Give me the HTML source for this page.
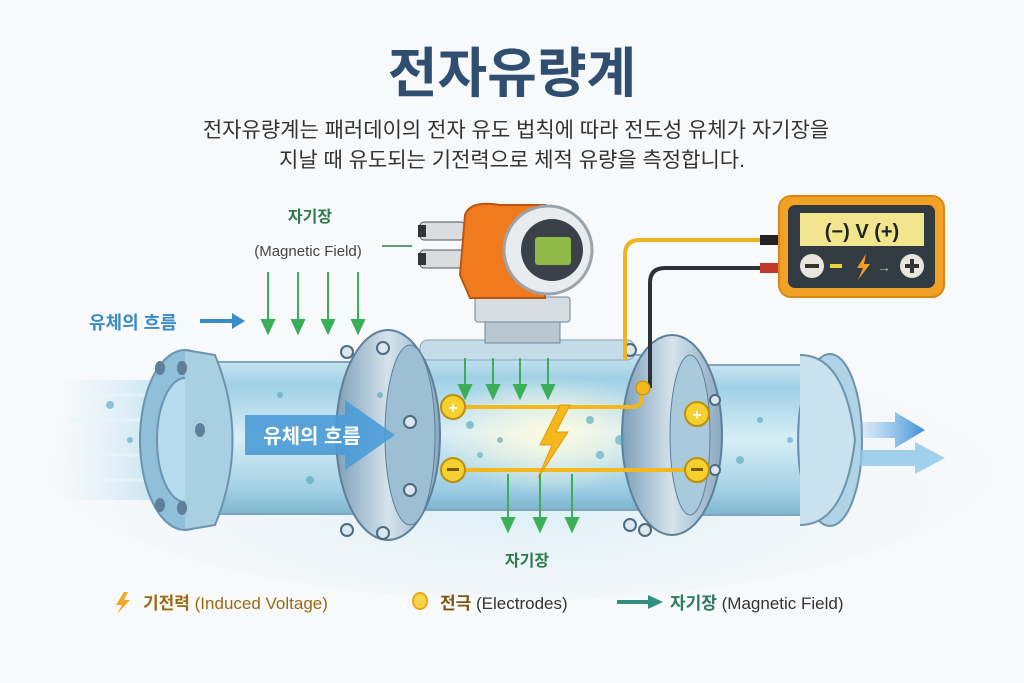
<!DOCTYPE html>
<html><head><meta charset="utf-8"><style>
html,body{margin:0;padding:0;background:#f8f9fa;}
svg{display:block;font-family:"Liberation Sans","Noto Sans CJK KR",sans-serif;}
</style></head><body>
<svg width="1024" height="683" viewBox="0 0 1024 683" xmlns="http://www.w3.org/2000/svg">
<defs>
<linearGradient id="glass" x1="0" y1="0" x2="0" y2="1">
<stop offset="0" stop-color="#c9e4f0"/><stop offset="0.15" stop-color="#9fd0e6"/><stop offset="0.5" stop-color="#d8eef6"/><stop offset="0.85" stop-color="#9fcfe4"/><stop offset="1" stop-color="#7fb5cf"/></linearGradient>
<linearGradient id="steel" x1="0" y1="0" x2="1" y2="0">
<stop offset="0" stop-color="#7d9fb8"/><stop offset="0.5" stop-color="#d5e3ec"/><stop offset="1" stop-color="#8aa9c0"/></linearGradient>
<linearGradient id="flow" x1="0" y1="0" x2="1" y2="0">
<stop offset="0" stop-color="#bfe3f3" stop-opacity="0"/><stop offset="1" stop-color="#5fb5dc"/></linearGradient>
<linearGradient id="rflow" x1="0" y1="0" x2="1" y2="0">
<stop offset="0" stop-color="#7ab8e6" stop-opacity="0.2"/><stop offset="1" stop-color="#3d8fd6"/></linearGradient>
<radialGradient id="glow" cx="0.5" cy="0.5" r="0.5"><stop offset="0" stop-color="#fffbe0"/><stop offset="1" stop-color="#fffbe0" stop-opacity="0"/></radialGradient>
<radialGradient id="bg" cx="0.5" cy="0.65" r="0.6"><stop offset="0" stop-color="#d9eef7"/><stop offset="1" stop-color="#f8f9fa" stop-opacity="0"/></radialGradient>
</defs>
<rect width="1024" height="683" fill="#f8f9fa"/>
<ellipse cx="520" cy="450" rx="480" ry="150" fill="url(#bg)"/>
<text x="512" y="92" text-anchor="middle" font-size="54" font-weight="bold" fill="#2f4e70">전자유량계</text>
<text x="516" y="137" text-anchor="middle" font-size="21" fill="#333">전자유량계는 패러데이의 전자 유도 법칙에 따라 전도성 유체가 자기장을</text>
<text x="512" y="167" text-anchor="middle" font-size="21" fill="#333">지날 때 유도되는 기전력으로 체적 유량을 측정합니다.</text>

<rect x="60" y="380" width="180" height="120" fill="url(#flow)" opacity="0.8"/>
<g stroke="#e8f6fc" stroke-width="3" opacity="0.8"><line x1="80" y1="395" x2="200" y2="395"/><line x1="70" y1="420" x2="200" y2="420"/><line x1="90" y1="455" x2="200" y2="455"/><line x1="75" y1="480" x2="200" y2="480"/></g>

<rect x="190" y="362" width="215" height="152" fill="url(#glass)" stroke="#7fa6bf" stroke-width="2"/>
<ellipse cx="185" cy="440" rx="45" ry="90" fill="#8fbfd9" stroke="#6c93ae" stroke-width="2"/>
<ellipse cx="185" cy="440" rx="28" ry="62" fill="#b7dced" stroke="#6c93ae" stroke-width="2"/>
<path d="M185 350 L215 355 Q250 440 215 525 L185 530" fill="#a9cfe2" stroke="#6c93ae" stroke-width="2"/>
<g fill="#5d7f99"><ellipse cx="160" cy="368" rx="5" ry="7"/><ellipse cx="182" cy="368" rx="5" ry="7"/><ellipse cx="200" cy="430" rx="5" ry="7"/><ellipse cx="160" cy="505" rx="5" ry="7"/><ellipse cx="182" cy="508" rx="5" ry="7"/></g>

<rect x="420" y="355" width="275" height="155" fill="url(#glass)" stroke="#7fa6bf" stroke-width="2"/>
<rect x="420" y="340" width="215" height="20" rx="8" fill="#c4dde9" stroke="#7fa6bf"/>
<ellipse cx="550" cy="435" rx="110" ry="60" fill="url(#glow)"/>
<ellipse cx="388" cy="435" rx="52" ry="105" fill="url(#steel)" stroke="#5d7f99" stroke-width="2"/>
<ellipse cx="410" cy="435" rx="25" ry="90" fill="#9cbfd3" stroke="#5d7f99"/>
<g fill="#dbe6ee" stroke="#4c6a82" stroke-width="2"><circle cx="347" cy="352" r="6"/><circle cx="383" cy="348" r="6"/><circle cx="410" cy="422" r="6"/><circle cx="410" cy="490" r="6"/><circle cx="347" cy="530" r="6"/><circle cx="383" cy="533" r="6"/></g>
<!-- big flow arrow (on top of flange) -->
<path d="M245 415 L345 415 L345 400 L395 435 L345 470 L345 455 L245 455 Z" fill="#4a9bd6" opacity="0.9"/>
<text x="312" y="443" text-anchor="middle" font-size="20" font-weight="bold" fill="#fff">유체의 흐름</text>

<rect x="700" y="365" width="130" height="150" fill="url(#glass)" stroke="#7fa6bf" stroke-width="2"/>
<ellipse cx="672" cy="435" rx="50" ry="100" fill="url(#steel)" stroke="#5d7f99" stroke-width="2"/>
<ellipse cx="690" cy="435" rx="20" ry="80" fill="#a9cadb" stroke="#5d7f99"/>
<g fill="#dbe6ee" stroke="#4c6a82" stroke-width="2"><circle cx="630" cy="350" r="6"/><circle cx="715" cy="400" r="5"/><circle cx="715" cy="470" r="5"/><circle cx="630" cy="525" r="6"/><circle cx="645" cy="530" r="6"/></g>
<ellipse cx="830" cy="440" rx="32" ry="86" fill="#b0d4e6" stroke="#6c93ae" stroke-width="2"/>
<path d="M800 355 Q845 355 855 440 Q845 525 800 525" fill="#c9e2ee" stroke="#6c93ae" stroke-width="2"/>
<g fill="#4ea4b8" opacity="0.6"><circle cx="470" cy="425" r="4"/><circle cx="500" cy="440" r="3"/><circle cx="590" cy="420" r="4"/><circle cx="620" cy="440" r="5"/><circle cx="480" cy="455" r="3"/><circle cx="600" cy="455" r="4"/><circle cx="280" cy="395" r="3"/><circle cx="310" cy="480" r="4"/><circle cx="380" cy="395" r="3"/><circle cx="760" cy="420" r="3"/><circle cx="740" cy="460" r="4"/><circle cx="790" cy="440" r="3"/><circle cx="110" cy="405" r="4"/><circle cx="130" cy="440" r="3"/></g>
<path d="M860 422 L895 422 L895 412 L925 430 L895 448 L895 438 L860 438 Z" fill="url(#rflow)"/>
<path d="M860 450 L915 450 L915 442 L945 458 L915 474 L915 466 L860 466 Z" fill="#8cc6e8" opacity="0.8"/>

<rect x="485" y="315" width="75" height="28" fill="#b8c7d2" stroke="#6f8596"/>
<rect x="475" y="297" width="95" height="25" rx="3" fill="#d5dde3" stroke="#6f8596"/>
<rect x="420" y="222" width="45" height="18" rx="4" fill="#d9dde0" stroke="#555"/>
<rect x="420" y="250" width="45" height="18" rx="4" fill="#d9dde0" stroke="#555"/>
<rect x="418" y="225" width="8" height="12" fill="#333"/><rect x="418" y="253" width="8" height="12" fill="#333"/>
<path d="M465 215 Q470 200 500 205 L545 205 L545 298 L470 298 L460 275 Z" fill="#f07b1f" stroke="#b85510" stroke-width="2"/>
<circle cx="548" cy="250" r="44" fill="#e9ecee" stroke="#9aa3aa" stroke-width="3"/>
<circle cx="552" cy="250" r="31" fill="#3a4148"/>
<rect x="535" y="237" width="36" height="28" rx="3" fill="#8fba4a"/>

<path d="M765 240 L640 240 Q625 240 625 255 L625 360" fill="none" stroke="#f2b21c" stroke-width="4"/>
<path d="M765 268 L665 268 Q650 268 650 283 L650 388" fill="none" stroke="#2c3238" stroke-width="4"/>
<rect x="760" y="235" width="20" height="10" fill="#222"/><rect x="760" y="263" width="20" height="10" fill="#c0392b"/>

<rect x="779" y="196" width="165" height="101" rx="12" fill="#f2a126" stroke="#d88812" stroke-width="2"/>
<rect x="788" y="205" width="147" height="83" rx="7" fill="#323a42"/>
<rect x="800" y="213" width="124" height="33" fill="#f1e58e"/>
<text x="862" y="238" text-anchor="middle" font-size="20" font-weight="bold" fill="#222">(−) V (+)</text>
<circle cx="812" cy="266" r="12" fill="#e9e6df"/><rect x="805" y="264" width="14" height="4" fill="#333"/>
<rect x="830" y="264" width="12" height="4" fill="#f1d23c"/>
<path d="M866 254 L857 268 L863 268 L858 280 L870 264 L864 264 Z" fill="#f2a126"/>
<text x="884" y="272" text-anchor="middle" font-size="14" fill="#bbb">→</text>
<circle cx="912" cy="266" r="12" fill="#e9e6df"/><rect x="905" y="264" width="14" height="4" fill="#333"/><rect x="910" y="259" width="4" height="14" fill="#333"/>

<path d="M455 407 L632 407 Q642 407 642 397 L642 390" fill="none" stroke="#f5b81c" stroke-width="4"/>
<line x1="455" y1="470" x2="697" y2="470" stroke="#f5b81c" stroke-width="4"/>
<circle cx="643" cy="388" r="7" fill="#f5b81c" stroke="#c98a0c"/>
<path d="M560 405 L540 445 L552 445 L538 478 L568 432 L556 432 L570 405 Z" fill="#f5b81c" stroke="#e09a10"/>
<g font-size="16" font-weight="bold" text-anchor="middle" fill="#fff">
<circle cx="453" cy="407" r="12" fill="#f6d02e" stroke="#b8900e" stroke-width="2"/><text x="453" y="413">+</text>
<circle cx="453" cy="470" r="12" fill="#f6d02e" stroke="#b8900e" stroke-width="2"/><rect x="447" y="468" width="12" height="3" fill="#7a5a00"/>
<circle cx="697" cy="414" r="12" fill="#f6d02e" stroke="#b8900e" stroke-width="2"/><text x="697" y="420">+</text>
<circle cx="697" cy="470" r="12" fill="#f6d02e" stroke="#b8900e" stroke-width="2"/><rect x="691" y="468" width="12" height="3" fill="#7a5a00"/>
</g>

<g stroke="#3bae5a" stroke-width="2" fill="#3bae5a">
<line x1="268" y1="272" x2="268" y2="325"/><path d="M262 320 L274 320 L268 333Z"/>
<line x1="298" y1="272" x2="298" y2="325"/><path d="M292 320 L304 320 L298 333Z"/>
<line x1="328" y1="272" x2="328" y2="325"/><path d="M322 320 L334 320 L328 333Z"/>
<line x1="358" y1="272" x2="358" y2="325"/><path d="M352 320 L364 320 L358 333Z"/>
<line x1="465" y1="358" x2="465" y2="390"/><path d="M459 385 L471 385 L465 398Z"/>
<line x1="493" y1="358" x2="493" y2="390"/><path d="M487 385 L499 385 L493 398Z"/>
<line x1="520" y1="358" x2="520" y2="390"/><path d="M514 385 L526 385 L520 398Z"/>
<line x1="548" y1="358" x2="548" y2="390"/><path d="M542 385 L554 385 L548 398Z"/>
<line x1="508" y1="474" x2="508" y2="523"/><path d="M502 518 L514 518 L508 531Z"/>
<line x1="540" y1="474" x2="540" y2="523"/><path d="M534 518 L546 518 L540 531Z"/>
<line x1="572" y1="474" x2="572" y2="523"/><path d="M566 518 L578 518 L572 531Z"/>
</g>
<text x="310" y="222" text-anchor="middle" font-size="16" font-weight="bold" fill="#2e7a4c">자기장</text>
<text x="308" y="256" text-anchor="middle" font-size="15" fill="#444">(Magnetic Field)</text>
<line x1="382" y1="246" x2="412" y2="246" stroke="#2e7a4c" stroke-width="1.5"/>
<text x="527" y="566" text-anchor="middle" font-size="16" font-weight="bold" fill="#2e7a4c">자기장</text>
<text x="89" y="329" font-size="18" font-weight="bold" fill="#3a8cc8">유체의 흐름</text>
<path d="M200 319 L232 319 L232 313 L245 321 L232 329 L232 323 L200 323Z" fill="#3a8cc8"/>

<path d="M124 592 L116 605 L122 605 L117 614 L130 600 L124 600 L128 592Z" fill="#f5a623"/>
<text x="143" y="609" font-size="17" fill="#9a6a12"><tspan font-weight="bold">기전력</tspan> (Induced Voltage)</text>
<ellipse cx="420" cy="601" rx="7" ry="8" fill="#f8d24a" stroke="#e6a817" stroke-width="2"/>
<text x="440" y="609" font-size="17" fill="#333"><tspan font-weight="bold" fill="#7a5410">전극</tspan> (Electrodes)</text>
<line x1="617" y1="602" x2="650" y2="602" stroke="#2f8f82" stroke-width="4"/><path d="M648 595 L663 602 L648 609Z" fill="#2f8f82"/>
<text x="670" y="609" font-size="17" fill="#333"><tspan font-weight="bold" fill="#2e7a5c">자기장</tspan> (Magnetic Field)</text>
</svg>
</body></html>
